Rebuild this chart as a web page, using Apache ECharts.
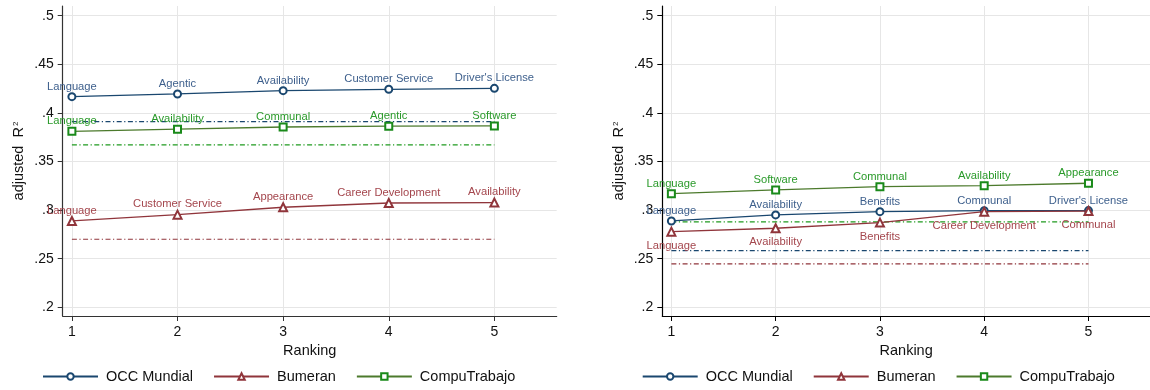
<!DOCTYPE html>
<html>
<head>
<meta charset="utf-8">
<script src="https://cdn.jsdelivr.net/npm/echarts@6/dist/echarts.min.js"></script>
<style>html,body{margin:0;padding:0;background:#fff}#c{width:1150px;height:390px}</style>
</head>
<body>
<div id="c"></div>
<script>
// ---- data ----
const ranks = [1, 2, 3, 4, 5];
const xTicks = [1, 2, 3, 4, 5];
const yTicks = [0.2, 0.25, 0.3, 0.35, 0.4, 0.45, 0.5];
const seriesNames = ['OCC Mundial', 'Bumeran', 'CompuTrabajo'];

const leftOcc = [0.4167, 0.4195, 0.4229, 0.4243, 0.4253];
const leftBum = [0.2888, 0.2953, 0.3029, 0.3073, 0.3077];
const leftCompu = [0.3810, 0.3832, 0.3855, 0.3863, 0.3866];
const leftBaselines = [0.391, 0.270, 0.367]; // OCC, Bumeran, CompuTrabajo
const leftOccLabels = ['Language', 'Agentic', 'Availability', 'Customer Service', "Driver's License"];
const leftBumLabels = ['Language', 'Customer Service', 'Appearance', 'Career Development', 'Availability'];
const leftCompuLabels = ['Language', 'Availability', 'Communal', 'Agentic', 'Software'];

const rightOcc = [0.2888, 0.2950, 0.2984, 0.2994, 0.2995];
const rightBum = [0.2778, 0.2813, 0.2871, 0.2984, 0.2990];
const rightCompu = [0.3169, 0.3207, 0.3241, 0.3251, 0.3276];
const rightBaselines = [0.2583, 0.2446, 0.2878];
const rightOccLabels = ['Language', 'Availability', 'Benefits', 'Communal', "Driver's License"];
const rightBumLabels = ['Language', 'Availability', 'Benefits', 'Career Development', 'Communal'];
const rightCompuLabels = ['Language', 'Software', 'Communal', 'Availability', 'Appearance'];

// ---- styles ----
const lineColors = ['#1a476f', '#90353b', '#4c7a2c'];
const markerColors = ['#1a476f', '#90353b', '#1a8a1a'];
const labelColors = ['#3d5f8c', '#a4464d', '#2a9a2a'];
const baseColors = ['#1a476f', '#90353b', '#1f9a1f'];
const symbols = ['emptyCircle', 'emptyTriangle', 'emptyRect'];
const font = 'Liberation Sans, Arial, sans-serif';

function xAxisCfg(gi, axisColor) {
  return {
    type: 'value', gridIndex: gi, min: 0.913, max: 5.59,
    name: 'Ranking', nameLocation: 'middle', nameGap: 25,
    nameTextStyle: { fontSize: 14.5, color: '#111', fontFamily: font },
    axisLine: { show: true, lineStyle: { color: axisColor, width: 1.2 } },
    axisTick: { show: true, length: 5, customValues: xTicks, lineStyle: { color: axisColor } },
    axisLabel: { customValues: xTicks, fontSize: 14, color: '#111', fontFamily: font, margin: 9 },
    splitLine: { show: true, lineStyle: { color: '#e6e6e6', width: 1 } }
  };
}
function yAxisCfg(gi, axisColor) {
  return {
    type: 'value', gridIndex: gi, min: 0.191, max: 0.51,
    name: 'adjusted  R{sup|2}', nameLocation: 'middle', nameGap: 36, nameRotate: 90,
    nameTextStyle: { fontSize: 14.5, color: '#111', fontFamily: font,
      rich: { sup: { fontSize: 8, color: '#111', fontFamily: font, verticalAlign: 'top', padding: [0, 0, 7, 1] } } },
    axisLine: { show: true, lineStyle: { color: axisColor, width: 1.2 } },
    axisTick: { show: true, length: 5, customValues: yTicks, lineStyle: { color: axisColor } },
    axisLabel: { customValues: yTicks, fontSize: 14, color: '#111', fontFamily: font, margin: 9,
      formatter: v => String(+(+v).toFixed(2)).replace(/^0/, '') },
    splitLine: { show: true, lineStyle: { color: '#e6e6e6', width: 1 } }
  };
}

function mainSeries(gi, idx, values, labels, pos) {
  return {
    name: seriesNames[idx], type: 'line', xAxisIndex: gi, yAxisIndex: gi,
    data: ranks.map((r, i) => ({ value: [r, values[i]], name: labels[i] })),
    symbol: symbols[idx], symbolSize: idx === 1 ? 8 : 7, showAllSymbol: true,
    lineStyle: { color: lineColors[idx], width: 1.3 },
    itemStyle: { color: markerColors[idx], borderWidth: 1.4 },
    label: { show: true, position: pos, distance: pos === 'top' ? 0 : 3.5, formatter: '{b}',
      fontSize: 11.2, color: labelColors[idx], fontFamily: font },
    labelLayout: { hideOverlap: false },
    z: 3 + idx, animation: false
  };
}
function baseSeries(gi, idx, value) {
  return {
    name: seriesNames[idx] + ' baseline', type: 'line', xAxisIndex: gi, yAxisIndex: gi,
    data: [[ranks[0], value], [ranks[ranks.length - 1], value]],
    symbol: 'none', lineStyle: { color: baseColors[idx], width: 1.2, type: [5, 2.5, 1.2, 2.5] },
    z: 2, animation: false, silent: true
  };
}

const series = [
  baseSeries(0, 0, leftBaselines[0]), baseSeries(0, 1, leftBaselines[1]), baseSeries(0, 2, leftBaselines[2]),
  mainSeries(0, 0, leftOcc, leftOccLabels, 'top'),
  mainSeries(0, 1, leftBum, leftBumLabels, 'top'),
  mainSeries(0, 2, leftCompu, leftCompuLabels, 'top'),
  baseSeries(1, 0, rightBaselines[0]), baseSeries(1, 1, rightBaselines[1]), baseSeries(1, 2, rightBaselines[2]),
  mainSeries(1, 0, rightOcc, rightOccLabels, 'top'),
  mainSeries(1, 1, rightBum, rightBumLabels, 'bottom'),
  mainSeries(1, 2, rightCompu, rightCompuLabels, 'top')
];

function legendCfg(left) {
  return {
    left: left, top: 369, padding: 0, data: seriesNames, itemWidth: 55, itemHeight: 8, itemGap: 20,
    textStyle: { fontSize: 14.5, color: '#111', fontFamily: font, padding: [0, 0, 0, 3] },
    selectedMode: false
  };
}

const chart = echarts.init(document.getElementById('c'), null, { renderer: 'canvas' });
chart.setOption({
  backgroundColor: '#fff',
  animation: false,
  grid: [
    { left: 62.7, top: 6, width: 494, height: 310 },
    { left: 662.3, top: 6, width: 494, height: 310 }
  ],
  xAxis: [xAxisCfg(0, '#333'), xAxisCfg(1, '#000')],
  yAxis: [yAxisCfg(0, '#333'), yAxisCfg(1, '#000')],
  legend: [legendCfg(42), legendCfg(641.7)],
  series: series
});
</script>
</body>
</html>
